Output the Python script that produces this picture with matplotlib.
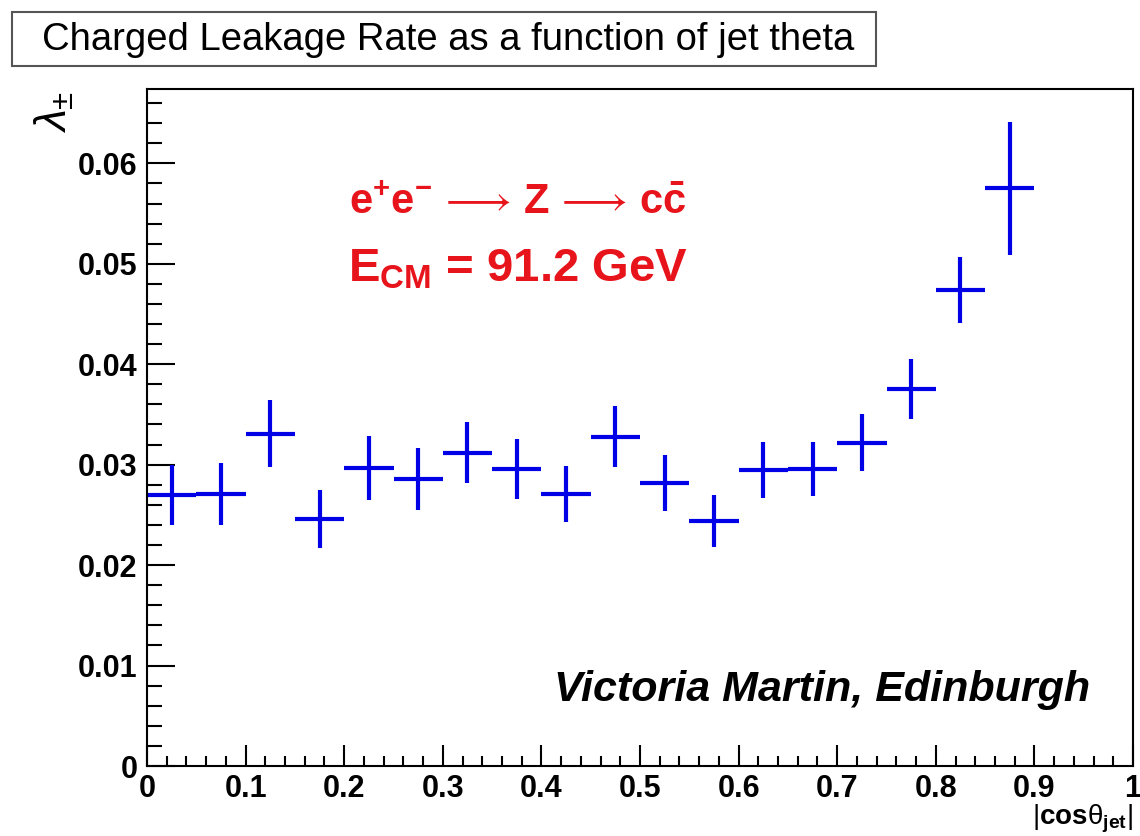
import numpy as np
import matplotlib
matplotlib.use('Agg')
import matplotlib.pyplot as plt
from matplotlib.patches import Rectangle
from matplotlib.ticker import MultipleLocator, FuncFormatter

plt.rcParams['font.family'] = ['Liberation Sans', 'DejaVu Sans']
plt.rcParams['mathtext.fontset'] = 'custom'
plt.rcParams['mathtext.rm'] = 'Liberation Sans'
plt.rcParams['mathtext.bf'] = 'Liberation Sans:bold'
plt.rcParams['mathtext.it'] = 'Liberation Sans:italic'

# |cos theta_jet| bin centres and charged leakage rate
cos_theta = [0.025, 0.075, 0.125, 0.175, 0.225, 0.275, 0.325, 0.375, 0.425,
             0.475, 0.525, 0.575, 0.625, 0.675, 0.725, 0.775, 0.825, 0.875]
leak_rate = [0.0270, 0.0271, 0.0331, 0.0246, 0.0297, 0.0286, 0.0312, 0.0296, 0.0271,
             0.0328, 0.0282, 0.0244, 0.0295, 0.0296, 0.0322, 0.0375, 0.0474, 0.0575]
leak_err = [0.0030, 0.0031, 0.0033, 0.0029, 0.0032, 0.0031, 0.0030, 0.0030, 0.0028,
            0.0030, 0.0028, 0.0026, 0.0028, 0.0027, 0.0028, 0.0030, 0.0033, 0.0066]
bin_half = 0.025

W, H = 1140, 836
fig = plt.figure(figsize=(W / 100, H / 100), dpi=100)
ax = fig.add_axes([147 / W, 1 - 766 / H, (1133 - 147) / W, (766 - 89) / H])

ax.errorbar(cos_theta, leak_rate, xerr=bin_half, yerr=leak_err, fmt='none',
            ecolor='#0000e6', elinewidth=3, capsize=0)

ax.set_xlim(0, 1)
ax.set_ylim(0, 0.0674)
ax.xaxis.set_major_locator(MultipleLocator(0.1))
ax.xaxis.set_minor_locator(MultipleLocator(0.02))
ax.yaxis.set_major_locator(MultipleLocator(0.01))
ax.yaxis.set_minor_locator(MultipleLocator(0.002))
ax.xaxis.set_major_formatter(FuncFormatter(lambda v, p: '%g' % round(v, 3)))
ax.yaxis.set_major_formatter(FuncFormatter(lambda v, p: '%g' % round(v, 4)))

for s in ax.spines.values():
    s.set_linewidth(1.5)
ax.tick_params(axis='both', which='both', direction='in', width=1.5,
               top=False, right=False, labelsize=22)
ax.tick_params(axis='x', which='major', length=15, pad=6)
ax.tick_params(axis='x', which='minor', length=7)
ax.tick_params(axis='y', which='major', length=20, pad=7)
ax.tick_params(axis='y', which='minor', length=11)
for lab in ax.get_xticklabels() + ax.get_yticklabels():
    lab.set_fontweight('bold')

ax.text(1.0, -0.087, r'$|\mathbf{cos}\mathrm{\theta}_{\mathbf{jet}}|$', transform=ax.transAxes,
        ha='right', va='baseline', fontsize=20)
fig.text(54 / W, 1 - 112 / H, r'$\lambda_{\pm}$', rotation=90, ha='center', va='center',
         fontsize=32)

ax.text(0.376, 0.815,
        r'$\mathbf{e^{+}e^{-}}\,\longrightarrow\,\mathbf{Z}\,\longrightarrow\,\mathbf{c\bar{c}}$',
        transform=ax.transAxes, ha='center', va='baseline', fontsize=30, color='#e8141c')
ax.text(0.376, 0.716, r'$\mathbf{E_{CM}}$ = 91.2 GeV', transform=ax.transAxes,
        ha='center', va='baseline', fontsize=34, color='#e8141c', fontweight='bold')
ax.text(0.957, 0.096, 'Victoria Martin, Edinburgh', transform=ax.transAxes,
        ha='right', va='baseline', fontsize=31, fontweight='bold', style='italic')

# title box
fig.patches.append(Rectangle((12 / W, 1 - 66 / H), (876 - 12) / W, 54 / H,
                             transform=fig.transFigure, fill=False,
                             edgecolor='#555555', linewidth=1.5))
fig.text(42 / W, 1 - 40 / H, 'Charged Leakage Rate as a function of jet theta',
         ha='left', va='center', fontsize=27.5)

fig.savefig('out.png', dpi=100)
